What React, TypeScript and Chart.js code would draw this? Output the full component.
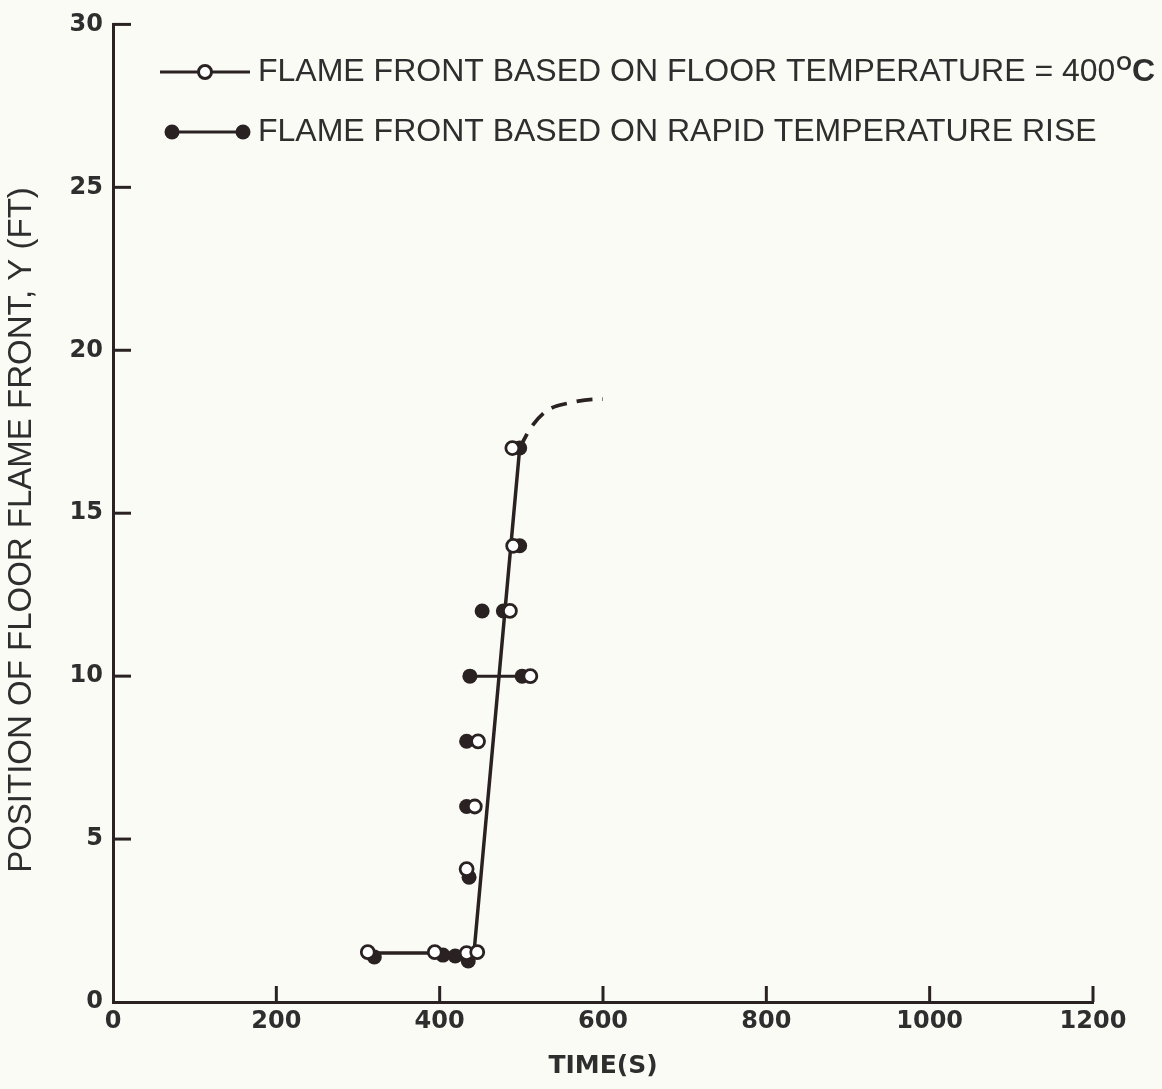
import React, { useEffect, useRef } from "react";
import { Chart, registerables } from "chart.js";

Chart.register(...registerables);

// ---- data ----
const X_TICKS = [0, 200, 400, 600, 800, 1000, 1200];
const Y_TICKS = [0, 5, 10, 15, 20, 25, 30];

// flame front based on floor temperature = 400 C (open circles)
const OPEN_T = [312, 394, 433, 446, 433, 443, 447, 511, 486, 490, 489];
const OPEN_Y = [1.53, 1.53, 1.5, 1.53, 4.08, 6.0, 8.0, 10.0, 12.0, 14.0, 17.0];

// flame front based on rapid temperature rise (filled circles)
const FILLED_T = [320, 404, 419, 435, 436, 433, 433, 437, 501, 452, 478, 498, 498];
const FILLED_Y = [1.38, 1.44, 1.41, 1.26, 3.83, 6.0, 8.0, 10.0, 10.0, 12.0, 12.0, 14.0, 17.0];

// fitted solid line
const FIT_T = [312, 442, 498];
const FIT_Y = [1.5, 1.5, 17.0];

// horizontal range at Y = 10
const RANGE_T = [437, 501];
const RANGE_Y = [10, 10];

// dashed extrapolation
const DASH_T = [498, 511, 531, 560, 593, 600];
const DASH_Y = [17.0, 17.6, 18.14, 18.39, 18.5, 18.5];

const LEGEND_1 = "FLAME FRONT BASED ON FLOOR TEMPERATURE = 400";
const LEGEND_1_SUP = "O";
const LEGEND_1_END = "C";
const LEGEND_2 = "FLAME FRONT BASED ON RAPID TEMPERATURE RISE";
const X_TITLE = "TIME(S)";
const Y_TITLE = "POSITION OF FLOOR FLAME FRONT, Y (FT)";

const INK = "#2a2222";
const TEXT = "#2e2e2e";
const BG = "#fbfbf6";

const zip = (xs: number[], ys: number[]) => xs.map((x, i) => ({ x, y: ys[i] }));

export default function App() {
  const ref = useRef<HTMLCanvasElement | null>(null);

  useEffect(() => {
    document.body.style.margin = "0";
    document.body.style.background = BG;
    const canvas = ref.current!;

    const bgPlugin = {
      id: "bg",
      beforeDraw(chart: any) {
        const ctx = chart.ctx;
        ctx.save();
        ctx.fillStyle = BG;
        ctx.fillRect(0, 0, chart.width, chart.height);
        ctx.restore();
      },
    };

    const ticksPlugin = {
      id: "inwardTicks",
      afterDraw(chart: any) {
        const ctx = chart.ctx;
        const xs = chart.scales.x;
        const ys = chart.scales.y;
        const area = chart.chartArea;
        ctx.save();
        ctx.strokeStyle = INK;
        ctx.lineWidth = 3;
        X_TICKS.forEach((v) => {
          if (v === 0) return;
          const px = xs.getPixelForValue(v);
          ctx.beginPath();
          ctx.moveTo(px, area.bottom);
          ctx.lineTo(px, area.bottom - 16);
          ctx.stroke();
        });
        Y_TICKS.forEach((v) => {
          if (v === 0) return;
          const py = ys.getPixelForValue(v);
          ctx.beginPath();
          ctx.moveTo(area.left, py);
          ctx.lineTo(area.left + 18, py);
          ctx.stroke();
        });
        // y-axis title
        ctx.save();
        ctx.translate(22, 530);
        ctx.rotate(-Math.PI / 2);
        ctx.fillStyle = TEXT;
        ctx.textAlign = "center";
        ctx.textBaseline = "middle";
        ctx.font = "33px 'Liberation Sans', Arial, sans-serif";
        ctx.fillText(Y_TITLE, 0, 0);
        ctx.restore();
        ctx.restore();
      },
    };

    const legendPlugin = {
      id: "customLegend",
      afterDraw(chart: any) {
        const ctx = chart.ctx;
        ctx.save();
        // entry 1: line with open circle
        const y1 = 72;
        ctx.strokeStyle = INK;
        ctx.lineWidth = 3;
        ctx.beginPath();
        ctx.moveTo(160, y1);
        ctx.lineTo(250, y1);
        ctx.stroke();
        ctx.beginPath();
        ctx.arc(205, y1, 6.5, 0, Math.PI * 2);
        ctx.fillStyle = "#ffffff";
        ctx.fill();
        ctx.lineWidth = 3;
        ctx.stroke();
        // entry 2: line with filled circles at ends
        const y2 = 132;
        ctx.lineWidth = 3;
        ctx.beginPath();
        ctx.moveTo(172, y2);
        ctx.lineTo(243, y2);
        ctx.stroke();
        ctx.fillStyle = INK;
        [172, 243].forEach((cx) => {
          ctx.beginPath();
          ctx.arc(cx, y2, 7.5, 0, Math.PI * 2);
          ctx.fill();
        });
        // texts
        ctx.fillStyle = TEXT;
        ctx.textBaseline = "middle";
        ctx.textAlign = "left";
        ctx.font = "32px 'Liberation Sans', Arial, sans-serif";
        ctx.fillText(LEGEND_1, 258, y1);
        const w = ctx.measureText(LEGEND_1).width;
        ctx.font = "bold 20px 'Liberation Sans', Arial, sans-serif";
        ctx.fillText(LEGEND_1_SUP, 258 + w + 1, y1 - 8);
        const ws = ctx.measureText(LEGEND_1_SUP).width;
        ctx.font = "bold 32px 'Liberation Sans', Arial, sans-serif";
        ctx.fillText(LEGEND_1_END, 258 + w + ws + 1, y1);
        ctx.font = "32px 'Liberation Sans', Arial, sans-serif";
        ctx.fillText(LEGEND_2, 258, y2);
        ctx.restore();
      },
    };

    const chart = new Chart(canvas, {
      type: "scatter",
      data: {
        datasets: [
          {
            label: "open",
            data: zip(OPEN_T, OPEN_Y),
            showLine: false,
            pointRadius: 6.5,
            pointBackgroundColor: "#ffffff",
            pointBorderColor: INK,
            pointBorderWidth: 2.8,
            order: 1,
          },
          {
            label: "filled",
            data: zip(FILLED_T, FILLED_Y),
            showLine: false,
            pointRadius: 7.5,
            pointBackgroundColor: INK,
            pointBorderColor: INK,
            pointBorderWidth: 0,
            order: 2,
          },
          {
            label: "fit",
            data: zip(FIT_T, FIT_Y),
            showLine: true,
            borderColor: INK,
            borderWidth: 3.5,
            pointRadius: 0,
            order: 3,
          },
          {
            label: "range",
            data: zip(RANGE_T, RANGE_Y),
            showLine: true,
            borderColor: INK,
            borderWidth: 3,
            pointRadius: 0,
            order: 3,
          },
          {
            label: "dashed",
            data: zip(DASH_T, DASH_Y),
            showLine: true,
            borderColor: INK,
            borderWidth: 3.8,
            borderDash: [16, 10],
            cubicInterpolationMode: "monotone",
            pointRadius: 0,
            order: 3,
          },
        ],
      },
      options: {
        animation: false,
        responsive: false,
        maintainAspectRatio: false,
        layout: { padding: { top: 23, right: 69, left: 0, bottom: 0 } },
        plugins: {
          legend: { display: false },
          tooltip: { enabled: false },
        },
        scales: {
          x: {
            type: "linear",
            min: 0,
            max: 1200,
            afterFit: (s: any) => {
              s.height = 87;
            },
            afterBuildTicks: (s: any) => {
              s.ticks = X_TICKS.map((v) => ({ value: v }));
            },
            grid: { display: false, drawOnChartArea: false, drawTicks: false },
            border: { display: true, color: INK, width: 3 },
            ticks: {
              color: TEXT,
              padding: 5,
              maxRotation: 0,
              callback: (v: any) => String(v),
              font: { family: "'DejaVu Sans', sans-serif", size: 24, weight: "bold" },
            },
            title: {
              display: true,
              text: X_TITLE,
              color: TEXT,
              padding: { top: 8, bottom: 8 },
              font: { family: "'DejaVu Sans', sans-serif", size: 25, weight: "bold" },
            },
          },
          y: {
            type: "linear",
            min: 0,
            max: 30,
            afterFit: (s: any) => {
              s.width = 113;
            },
            afterBuildTicks: (s: any) => {
              s.ticks = Y_TICKS.map((v) => ({ value: v }));
            },
            grid: { display: false, drawOnChartArea: false, drawTicks: false },
            border: { display: true, color: INK, width: 3 },
            ticks: {
              color: TEXT,
              padding: 10,
              callback: (v: any) => String(v),
              font: { family: "'DejaVu Sans', sans-serif", size: 24, weight: "bold" },
            },
            title: { display: false },
          },
        },
      },
      plugins: [bgPlugin, ticksPlugin, legendPlugin],
    } as any);

    return () => chart.destroy();
  }, []);

  return (
    <div style={{ width: 1162, height: 1089, background: BG }}>
      <canvas ref={ref} width={1162} height={1089} style={{ display: "block", width: 1162, height: 1089 }} />
    </div>
  );
}
